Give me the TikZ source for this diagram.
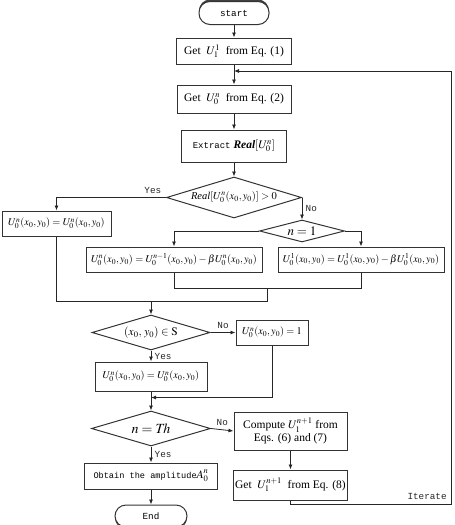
\documentclass[tikz,border=0pt]{standalone}
\usepackage{mathptmx}
\usepackage{fontspec}
\setmainfont{Liberation Serif}
\setmonofont{Liberation Mono}
\usetikzlibrary{positioning, shapes.geometric, arrows.meta, calc, shadows}

\begin{document}
\begin{tikzpicture}[
        x=1pt, y=-1pt,
        every node/.style={font=\fontsize{11.5}{13}\selectfont},
        box/.style={draw=black!80, line width=1pt, align=center, inner sep=2pt},
        eqbox/.style={box, font=\fontsize{10.3}{12}\selectfont},
        term/.style={draw=black!80, line width=1pt, rounded corners=11pt, fill=white, font=\ttfamily\fontsize{9.3}{11}\selectfont},
        dia/.style={draw=black!80, line width=1pt, diamond, aspect=3.2, inner sep=0pt},
        arrow/.style={-{Latex[length=5pt,width=4pt]}, line width=0.8pt, black!85},
        line/.style={line width=0.8pt, black!85},
        lab/.style={font=\ttfamily\fontsize{9.3}{11}\selectfont}
      ]
    \useasboundingbox (0,0) rectangle (455,525);

    % main column
    \node[term, minimum width=70pt, minimum height=23pt,
          drop shadow={shadow xshift=0pt, shadow yshift=2pt, fill=black!75, opacity=1}]
          (start) at (234,13) {start};
    \node[box, minimum width=115pt, minimum height=26pt] (get1) [below=12.5pt of start] {Get~ $U_1^1$~ from Eq. (1)};
    \node[box, minimum width=114pt, minimum height=28pt] (get2) [below=20pt of get1] {Get~ $U_0^n$~ from Eq. (2)};
    \node[box, minimum width=105pt, minimum height=32pt] (extract) [below=16pt of get2]
          {{\ttfamily\fontsize{9}{11}\selectfont Extract} \textbf{\textit{Real}}$[U_0^n]$};
    \node[dia, minimum width=135pt, minimum height=41pt, font=\fontsize{10.5}{12}\selectfont] (realdia) [below=14pt of extract]
          {\textit{Real}$[U_0^n(x_0,y_0)]>0$};

    % sign test
    \node[dia, aspect=3.9, minimum width=85pt, minimum height=22pt] (nodia) at ($(realdia.east)+(0,33.5)$)
          {\fontsize{13}{15}\selectfont$n=1$};
    \node[eqbox, minimum width=109pt, minimum height=25pt] (yesbox) at (56.5,223.5) {$U_0^n(x_0,y_0)=U_0^n(x_0,y_0)$};
    \node[eqbox, minimum width=176pt, minimum height=25pt] (lbox) at (174,259.5)
          {$U_0^n(x_0,y_0)=U_0^{n-1}(x_0,y_0)-\beta U_0^n(x_0,y_0)$};
    \node[eqbox, minimum width=166pt, minimum height=25pt] (rbox) at (361,259.5)
          {$U_0^1(x_0,y_0)=U_0^1(x_0,y_0)-\beta U_0^1(x_0,y_0)$};

    % support constraint
    \node[dia, aspect=3.4, minimum width=118pt, minimum height=35pt] (sdia) at (151,332.5)
          {$(x_0,\,y_0)\in\mathrm{S}$};
    \node[eqbox, minimum width=72pt, minimum height=25pt] (onebox) [right=25pt of sdia] {$U_0^n(x_0,y_0)=1$};
    \node[eqbox, minimum width=112pt, minimum height=29pt] (inbox) [below=11pt of sdia] {$U_0^n(x_0,y_0)=U_0^n(x_0,y_0)$};

    % stop test
    \node[dia, aspect=3.4, minimum width=119pt, minimum height=35pt] (thdia) [below=19pt of inbox]
          {\fontsize{14}{16}\selectfont$n=\mathit{Th}$};
    \node[box, minimum width=113pt, minimum height=38pt] (compbox) at (290.5,431)
          {Compute $U_1^{n+1}$ from\\Eqs. (6) and (7)};
    \node[box, minimum width=113pt, minimum height=30pt] (getbox) [below=19pt of compbox] {Get~ $U_1^{n+1}$~ from Eq. (8)};
    \node[box, minimum width=133pt, minimum height=26pt] (obtbox) [below=16pt of thdia]
          {{\ttfamily\fontsize{8.6}{10}\selectfont Obtain the amplitude}$A_0^n$};
    \node[term, minimum width=72pt, minimum height=22pt,
          drop shadow={shadow xshift=0pt, shadow yshift=-2pt, fill=black!75, opacity=1}]
          (endt) [below=15pt of obtbox] {End};

    % helper points
    \coordinate (looptr) at (451,71);
    \coordinate (loopbr) at (451,504);
    \coordinate (jmid) at ($(lbox.south)!0.5!(rbox.south)+(0,16)$);
    \coordinate (jbot) at ($(jmid)+(0,12.5)$);
    \coordinate (jin) at ($(inbox.south)+(0,6)$);

    \draw[arrow] (start) -- (get1);
    \draw[arrow] (get1) -- (get2);
    \draw[arrow] (get2) -- (extract);
    \draw[arrow] (extract) -- (realdia);
    \draw[arrow] (realdia.west) -| node[lab, pos=0.06, above] {Yes} (yesbox.north);
    \draw[arrow] (realdia.east) -- node[lab, right] {No} (nodia.north);
    \draw[arrow] (nodia.west) -| (lbox.north);
    \draw[arrow] (nodia.east) -| (rbox.north);
    \draw[line] (lbox.south) -- ++(0,16) -| (rbox.south);
    \draw[line] (jmid) -- (jbot);
    \draw[line] (yesbox.south) |- (jbot);
    \draw[arrow] (sdia.north |- jbot) -- (sdia.north);
    \draw[arrow] (sdia.east) -- node[lab, above] {No} (onebox.west);
    \draw[arrow] (sdia.south) -- node[lab, right] {Yes} (inbox.north);
    \draw[arrow] (onebox.south) |- (jin);
    \draw[arrow] (inbox) -- (thdia);
    \draw[arrow] (thdia.east) -- node[lab, above] {No} (compbox.west);
    \draw[arrow] (thdia.south) -- node[lab, right] {Yes} (obtbox.north);
    \draw[arrow] (compbox) -- (getbox);
    \draw[arrow] (obtbox) -- (endt);
    \draw[arrow] (getbox.south) |- (loopbr) node[lab, above left, inner sep=4pt] {Iterate}
          -- (looptr) -- (looptr -| get1.south);

    \end{tikzpicture}
\end{document}
